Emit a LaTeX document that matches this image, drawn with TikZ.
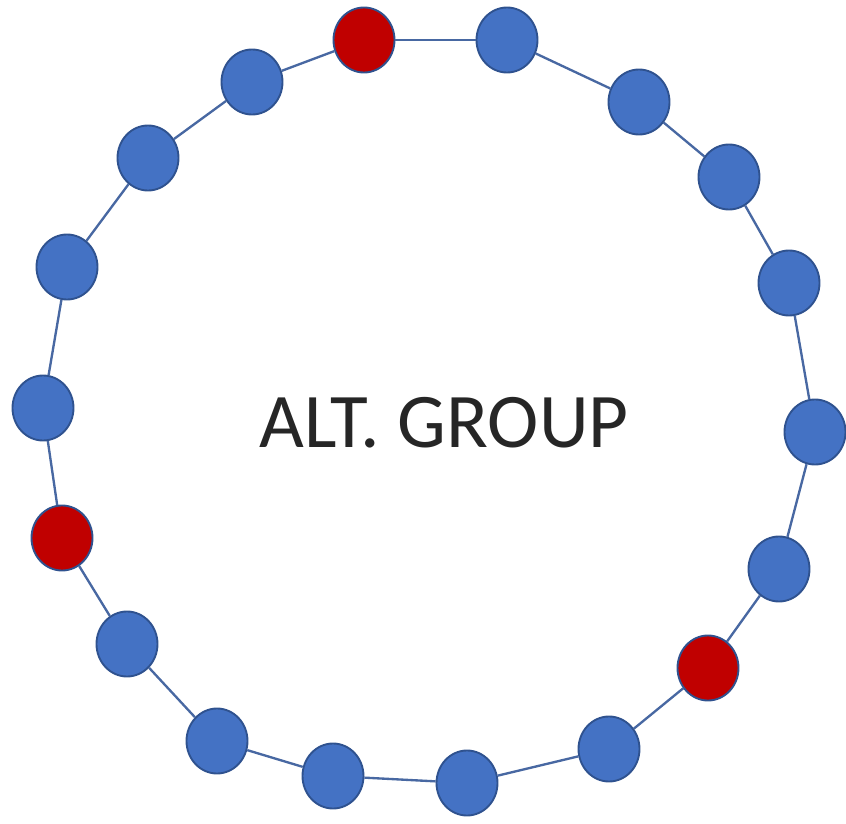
\documentclass[tikz,border=0pt]{standalone}
\usepackage{fontspec}
\setmainfont{Carlito}
\usepackage{tikz}
\usetikzlibrary{shapes.geometric}
\definecolor{altblue}{RGB}{68,114,196}
\definecolor{altedge}{RGB}{47,82,143}
\definecolor{altred}{RGB}{192,0,0}
\definecolor{altline}{RGB}{72,104,162}

\begin{document}
\begin{tikzpicture}[x=0.03cm, y=-0.03cm,
  bl/.style={ellipse, draw=altedge, line width=1.6pt, fill=altblue,
             minimum width=1.83cm, minimum height=1.95cm, inner sep=0pt},
  rd/.style={bl, fill=altred},
  ln/.style={altline, line width=2pt},
  tt/.style={font=\fontsize{66}{72}\selectfont, text=black!85}]
\useasboundingbox (0,0) rectangle (846,824);

\node[rd] (n1) at (364,40) {};
\node[bl] (n2) at (507,40) {};
\node[bl] (n3) at (639,102) {};
\node[bl] (n4) at (729,177) {};
\node[bl] (n5) at (789,283) {};
\node[bl] (n6) at (815,432) {};
\node[bl] (n7) at (779,569) {};
\node[rd] (n8) at (708,668) {};
\node[bl] (n9) at (609,749) {};
\node[bl] (n10) at (467,783) {};
\node[bl] (n11) at (333,776) {};
\node[bl] (n12) at (217,741) {};
\node[bl] (n13) at (127,644) {};
\node[rd] (n14) at (62,538) {};
\node[bl] (n15) at (43,408) {};
\node[bl] (n16) at (67,267) {};
\node[bl] (n17) at (148,158) {};
\node[bl] (n18) at (252,82) {};

\node[tt] (title) at (444,423) {ALT. GROUP};

\draw[ln] (n1) -- (n2);
\draw[ln] (n2) -- (n3);
\draw[ln] (n3) -- (n4);
\draw[ln] (n4) -- (n5);
\draw[ln] (n5) -- (n6);
\draw[ln] (n6) -- (n7);
\draw[ln] (n7) -- (n8);
\draw[ln] (n8) -- (n9);
\draw[ln] (n9) -- (n10);
\draw[ln] (n10) -- (n11);
\draw[ln] (n11) -- (n12);
\draw[ln] (n12) -- (n13);
\draw[ln] (n13) -- (n14);
\draw[ln] (n14) -- (n15);
\draw[ln] (n15) -- (n16);
\draw[ln] (n16) -- (n17);
\draw[ln] (n17) -- (n18);
\draw[ln] (n18) -- (n1);
\end{tikzpicture}
\end{document}
